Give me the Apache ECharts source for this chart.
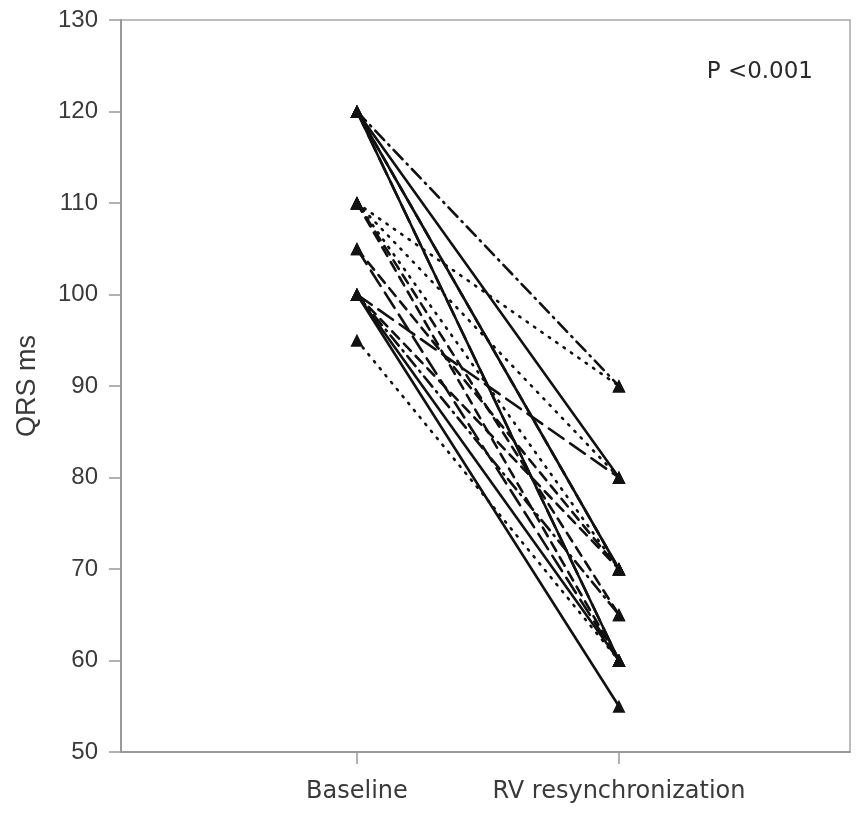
<!DOCTYPE html>
<html>
<head>
<meta charset="utf-8">
<script src="https://cdn.jsdelivr.net/npm/echarts@6/dist/echarts.min.js"></script>
<style>html,body{margin:0;padding:0;background:#fff}#c{width:856px;height:815px}</style>
</head>
<body>
<div id="c"></div>
<script>
const categories = ['Baseline', 'RV resynchronization'];
const yTicks = [50, 60, 70, 80, 90, 100, 110, 120, 130];
// One entry per patient: QRS at baseline and after RV resynchronization
const baselineValues = [120, 120, 120, 120, 120, 120, 110, 110, 110, 110, 110, 105, 105, 100, 100, 100, 100, 100, 95];
const rvValues       = [ 90,  80,  70,  70,  60,  60,  90,  80,  70,  60,  65,  60,  70,  80,  60,  55,  65,  70, 60];
const dashKinds      = ['dashdot','solid','solid','dashed','longdash','solid','dotted','dotted','dotted','dashed','dashed','longdash','dashed','longdash','solid','solid','dashdot','dashed','dotted'];

const dashMap = {
  solid: 'solid',
  dashed: [10, 7],
  longdash: [18, 8],
  dotted: [1.5, 7.5],
  dashdot: [13, 6, 1.5, 6]
};

const series = baselineValues.map((b, i) => ({
  type: 'line',
  data: [[0, b], [1, rvValues[i]]],
  symbol: 'triangle',
  symbolSize: 13,
  itemStyle: { color: '#111' },
  lineStyle: { color: '#111', width: 2.6, type: dashMap[dashKinds[i]], cap: 'round' },
  silent: true,
  animation: false
}));

const chart = echarts.init(document.getElementById('c'));
const fam = 'Liberation Sans, Arial, sans-serif';
chart.setOption({
  backgroundColor: '#fff',
  animation: false,
  title: {
    text: 'P <0.001',
    right: 38,
    top: 56,
    textStyle: { color: '#2a2a2a', fontFamily: 'DejaVu Sans, sans-serif', fontSize: 23, fontWeight: 'normal' }
  },
  grid: { left: 121, right: 6, top: 20, bottom: 63, show: true, borderColor: '#a8a8a8', borderWidth: 1.5 },
  xAxis: {
    type: 'value',
    min: -0.9006,
    max: 1.882,
    splitLine: { show: false },
    axisLine: { show: true, onZero: false, lineStyle: { color: '#999', width: 2 } },
    axisTick: { show: true, customValues: [0, 1], length: 12, lineStyle: { color: '#999', width: 1.5 } },
    axisLabel: { customValues: [0, 1], margin: 28, formatter: v => categories[Math.round(v)], color: '#3a3a3a', fontFamily: 'DejaVu Sans, sans-serif', fontSize: 24 }
  },
  yAxis: {
    type: 'value',
    min: yTicks[0],
    max: yTicks[yTicks.length - 1],
    interval: 10,
    name: 'QRS ms',
    nameLocation: 'middle',
    nameGap: 80,
    nameTextStyle: { color: '#3a3a3a', fontFamily: fam, fontSize: 27 },
    splitLine: { show: false },
    axisLine: { show: true, onZero: false, lineStyle: { color: '#999', width: 2 } },
    axisTick: { show: true, length: 12, lineStyle: { color: '#999', width: 1.5 } },
    axisLabel: { margin: 23, color: '#3a3a3a', fontFamily: fam, fontSize: 24 }
  },
  series: series
});
</script>
</body>
</html>
